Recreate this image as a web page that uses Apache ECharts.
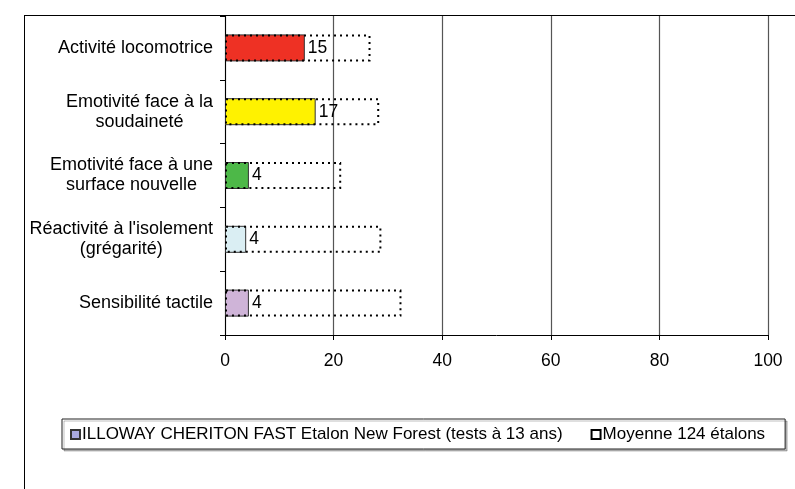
<!DOCTYPE html>
<html><head><meta charset="utf-8">
<script src="https://cdn.jsdelivr.net/npm/echarts/dist/echarts.min.js"></script>
<style>
html,body{margin:0;padding:0;background:#fff;}
#wrap{position:relative;width:795px;height:489px;overflow:hidden;background:#fff}
#frame{position:absolute;left:24px;top:15px;width:800px;height:500px;border-left:1.5px solid #000;border-top:1.5px solid #000;}
#chart{position:absolute;left:0;top:0;width:795px;height:489px}
</style></head><body>
<div id="wrap"><div id="frame"></div><div id="chart"></div></div>
<script>
const categories = [
  "Activité locomotrice",
  "Emotivité face à la\nsoudaineté",
  "Emotivité face à une\nsurface nouvelle",
  "Réactivité à l'isolement\n(grégarité)",
  "Sensibilité tactile"
];
const horseValues = [14.7, 16.7, 4.4, 3.9, 4.4];
const averageValues = [26.8, 28.4, 21.4, 28.8, 32.5];
const barColors = ["#EE3124", "#FFF200", "#4DB848", "#DAEEF3", "#CFB4D8"];
const xTicks = [0, 20, 40, 60, 80, 100];
const seriesNames = ["ILLOWAY CHERITON FAST Etalon New Forest (tests à 13 ans)", "Moyenne 124 étalons"];

const FONT = "'Liberation Sans', Arial, sans-serif";
const FS = 17.5;
const FS_CAT = 18;
const FS_LEG = 17;

const chart = echarts.init(document.getElementById('chart'), null, {renderer: 'canvas'});
chart.setOption({
  animation: false,
  textStyle: {fontFamily: FONT, color: '#000'},
  grid: {left: 225, right: 27, top: 16, bottom: 154, outerBoundsMode: 'none', containLabel: false},
  xAxis: {
    type: 'value', min: xTicks[0], max: xTicks[xTicks.length - 1], interval: xTicks[1] - xTicks[0],
    axisLine: {show: true, lineStyle: {color: '#000', width: 1}},
    axisTick: {show: true, length: 5, inside: false, lineStyle: {color: '#000'}},
    splitLine: {show: true, lineStyle: {color: '#555', width: 1.2, type: 'solid'}},
    axisLabel: {fontSize: FS, fontFamily: FONT, color: '#000', margin: 17, hideOverlap: false}
  },
  yAxis: {
    type: 'category', data: categories, inverse: true,
    axisLine: {show: true, lineStyle: {color: '#000', width: 1}},
    axisTick: {show: true, length: 5, alignWithLabel: false, lineStyle: {color: '#000'}},
    splitLine: {show: false},
    axisLabel: {
      interval: 0, margin: 12, align: 'right', color: '#000', fontFamily: FONT, fontSize: FS_CAT, lineHeight: 20,
      formatter: v => v.split('\n').map(s => '{c|' + s + '}').join('\n'),
      rich: {c: {align: 'center', fontSize: FS_CAT, fontFamily: FONT, color: '#000', lineHeight: 20}}
    }
  },
  legend: {
    left: 62, top: 419, width: 730,
    data: seriesNames,
    backgroundColor: '#fff', borderColor: '#222', borderWidth: 1,
    shadowColor: 'rgba(0,0,0,0.25)', shadowOffsetX: 2, shadowOffsetY: 2, shadowBlur: 0,
    padding: [7, 20, 6, 8],
    itemWidth: 9, itemHeight: 9, itemGap: 28,
    icon: 'rect',
    textStyle: {fontSize: FS_LEG, fontFamily: FONT, color: '#000', padding: [0, 0, 0, -3]}
  },
  series: [
    {
      name: seriesNames[0], type: 'bar', barWidth: 27, barGap: '-100%', z: 2,
      itemStyle: {color: '#AAAAE0', borderColor: '#333', borderWidth: 1},
      data: horseValues.map((v, i) => ({value: v, itemStyle: {color: barColors[i]}})),
      label: {show: true, position: 'right', distance: 3, fontSize: FS, fontFamily: FONT, color: '#000',
        formatter: p => Math.round(p.value)}
    },
    {
      name: seriesNames[1], type: 'bar', barWidth: 27, barGap: '-100%', z: 3,
      itemStyle: {color: 'rgba(0,0,0,0)', borderColor: '#000', borderWidth: 2, borderType: [2, 4]},
      data: averageValues
    }
  ]
});
</script>
</body></html>
